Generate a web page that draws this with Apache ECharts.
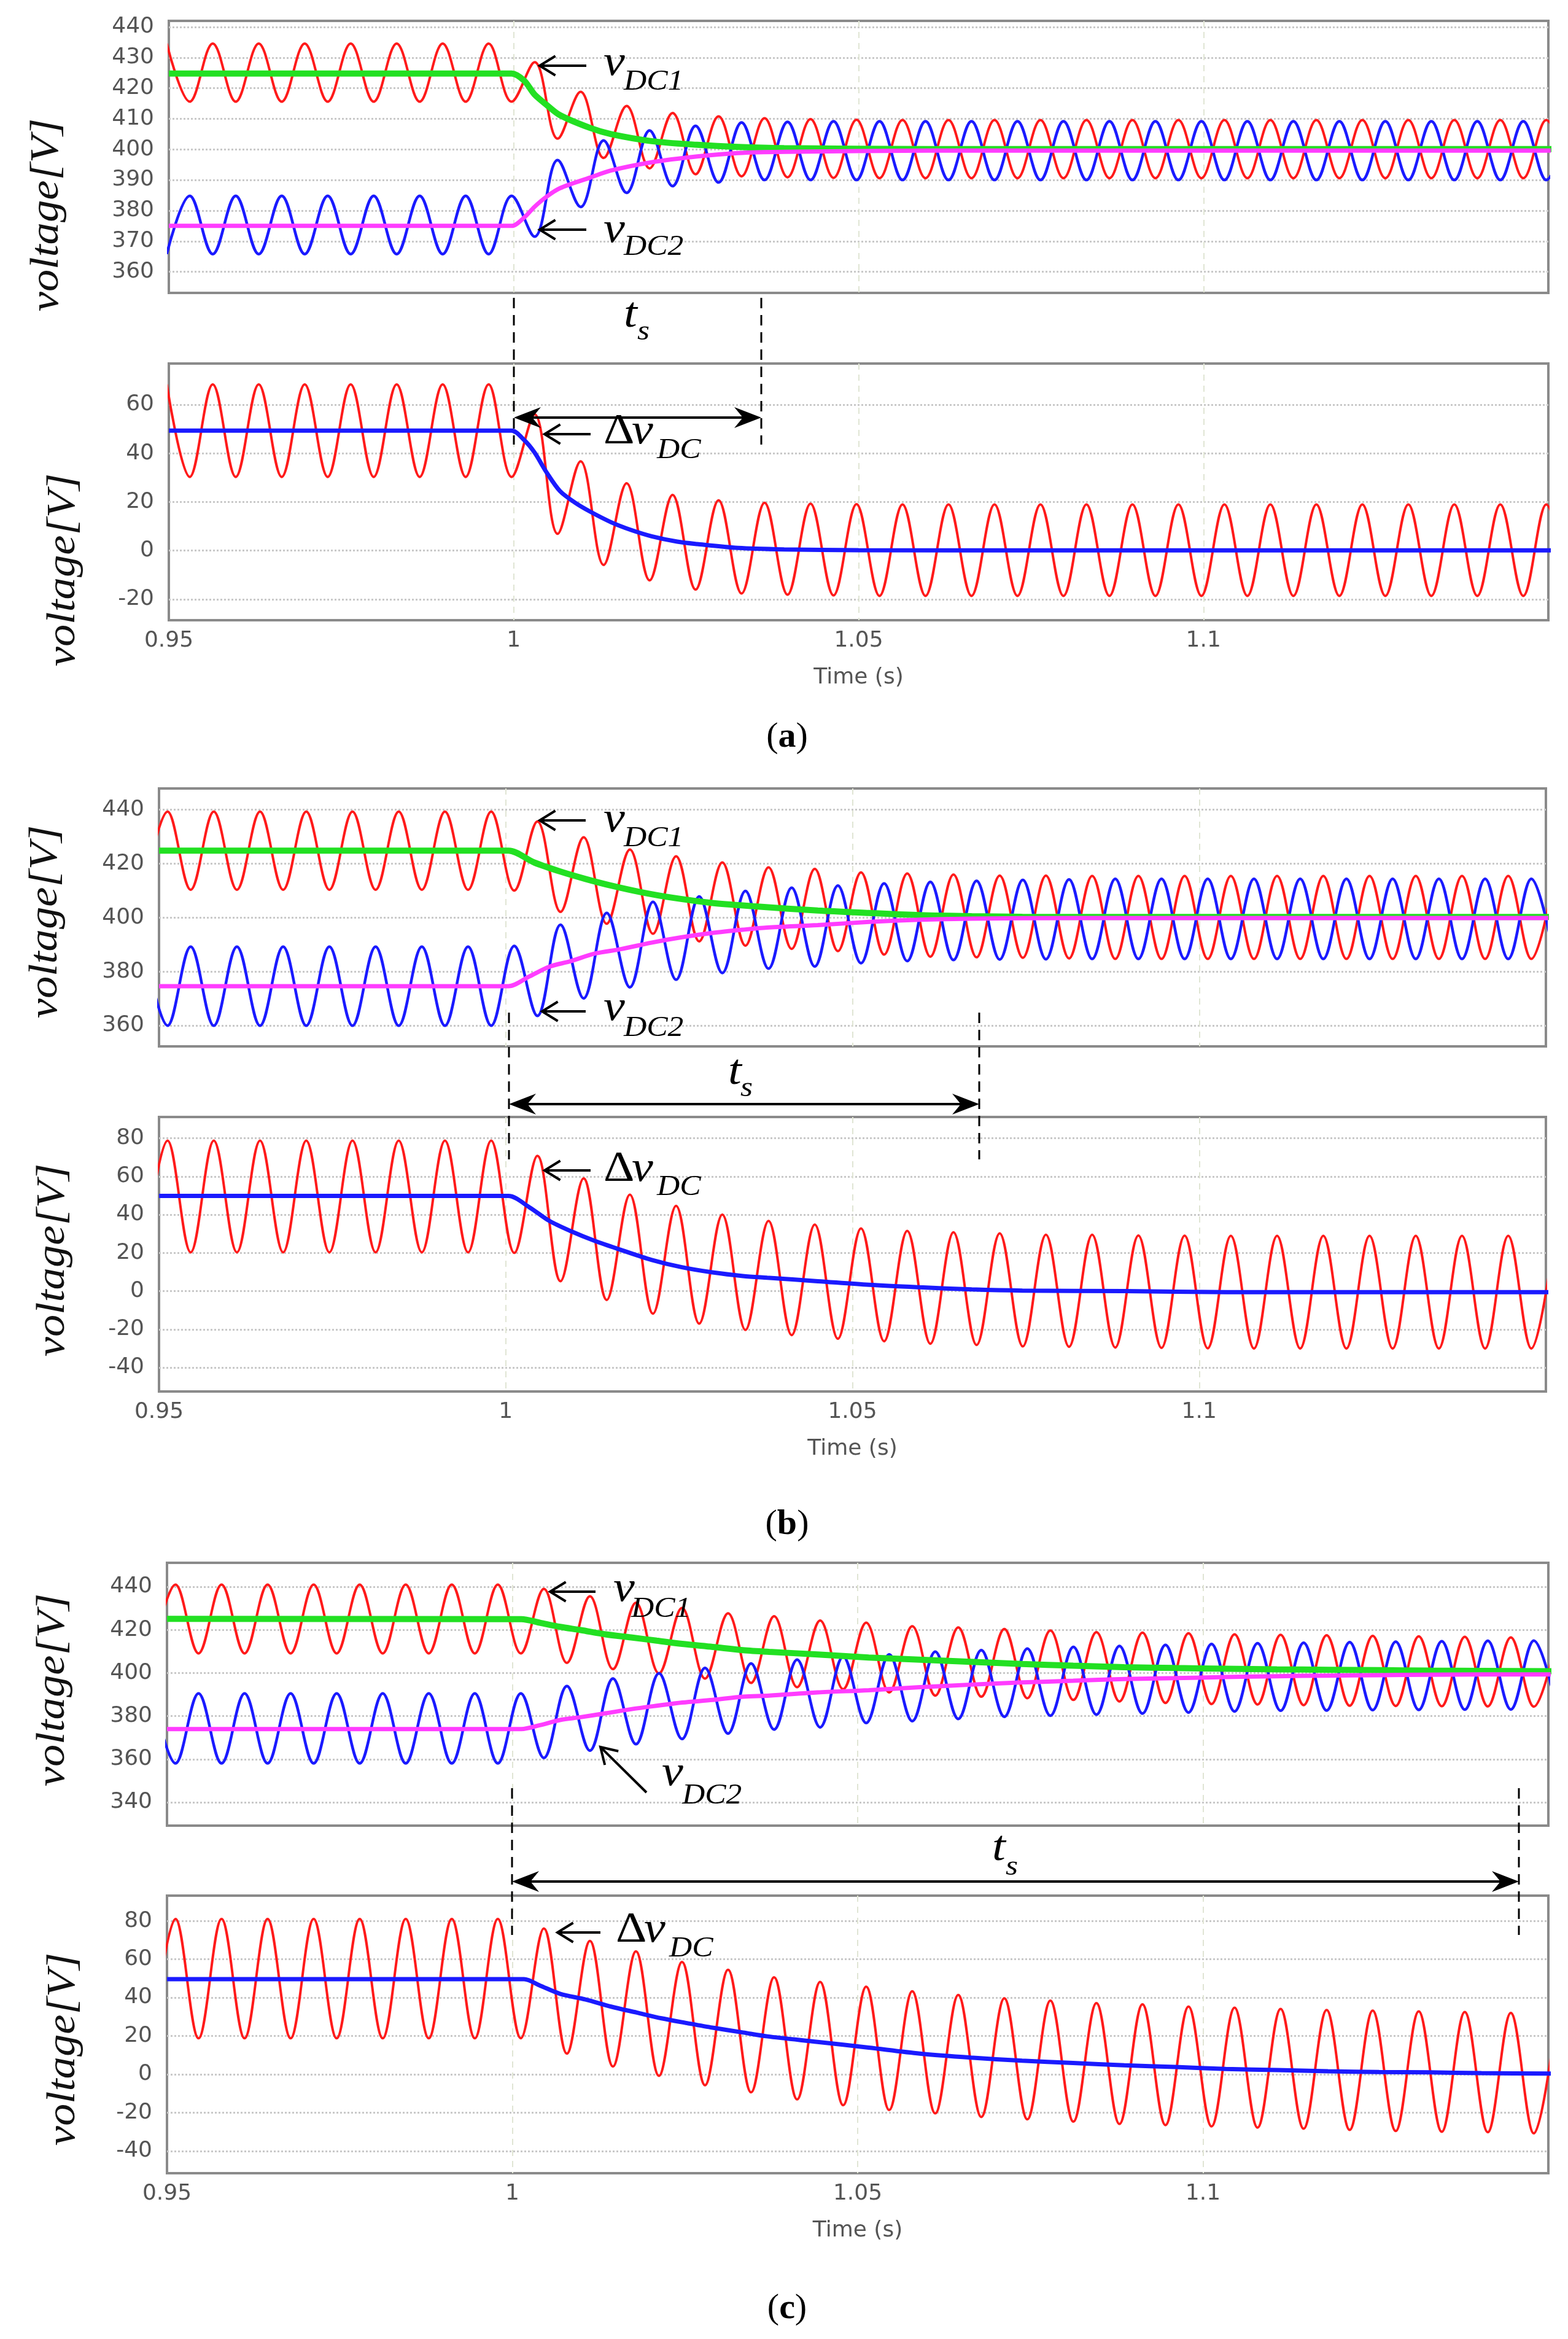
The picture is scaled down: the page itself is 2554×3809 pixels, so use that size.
<!DOCTYPE html>
<html>
<head>
<meta charset="utf-8">
<title>DC link voltage balancing</title>
<script src="https://cdn.jsdelivr.net/npm/echarts@6/dist/echarts.min.js"></script>
<style>
  html, body { margin: 0; padding: 0; background: #fff; }
  #chart { width: 2554px; height: 3809px; }
</style>
</head>
<body>
<div id="chart"></div>
<script>
/* ---------- 数据：时间轴 ---------- */
const TIME_MIN = 0.95;
const TIME_MAX = 1.15;
const timeTickLabels = [0.95, 1, 1.05, 1.1];
const timeGridLines = [1, 1.05, 1.1];
// 150 Hz 纹波：相邻采样点为一个波峰/波谷，间隔半个周期
const RIPPLE_HALF_PERIOD = 1 / 300;
const rippleStartA = 0.9497;
const rippleStartB = 0.9479;
const rippleStartC = 0.9479;

/* ---------- 数据：y 轴刻度 ---------- */
const voltTicksA = [360, 370, 380, 390, 400, 410, 420, 430, 440];
const diffTicksA = [-20, 0, 20, 40, 60];
const voltTicksB = [360, 380, 400, 420, 440];
const diffTicksB = [-40, -20, 0, 20, 40, 60, 80];
const voltTicksC = [340, 360, 380, 400, 420, 440];
const diffTicksC = [-40, -20, 0, 20, 40, 60, 80];

/* ---------- 数据：(a) 波峰/波谷读数 ---------- */
const redTopA = [
  434.6, 415.6, 434.6, 415.6, 434.6, 415.6, 434.6, 415.6, 434.6, 415.6,
  434.6, 415.6, 434.6, 415.6, 434.6, 415.6, 428.5, 403.5, 418.8, 397.2,
  414.2, 393.8, 411.9, 391.9, 410.8, 391.2, 410.2, 390.9, 409.9, 390.7,
  409.7, 390.6, 409.6, 390.6, 409.6, 390.6, 409.6, 390.6, 409.6, 390.6,
  409.6, 390.6, 409.6, 390.6, 409.6, 390.6, 409.6, 390.6, 409.6, 390.6,
  409.6, 390.6, 409.6, 390.6, 409.6, 390.6, 409.6, 390.6, 409.6, 390.6,
  409.6, 390.6
];
const blueTopA = [
  365.8, 384.8, 365.8, 384.8, 365.8, 384.8, 365.8, 384.8, 365.8, 384.8,
  365.8, 384.8, 365.8, 384.8, 365.8, 384.8, 371.5, 396.5, 381.2, 402.9,
  385.8, 406.2, 388.0, 407.7, 389.2, 408.8, 390.0, 409.0, 390.0, 409.2,
  390.0, 409.2, 390.0, 409.2, 390.0, 409.2, 390.0, 409.2, 390.0, 409.2,
  390.0, 409.2, 390.0, 409.2, 390.0, 409.2, 390.0, 409.2, 390.0, 409.2,
  390.0, 409.2, 390.0, 409.2, 390.0, 409.2, 390.0, 409.2, 390.0, 409.2,
  390.0, 409.2
];
const redBotA = [
  68.3, 30.3, 68.3, 30.3, 68.3, 30.3, 68.3, 30.3, 68.3, 30.3,
  68.3, 30.3, 68.3, 30.3, 68.3, 30.3, 56.0, 6.9, 36.7, -5.9,
  27.7, -12.2, 22.9, -16.0, 20.7, -17.6, 19.7, -18.1, 19.3, -18.4,
  19.1, -18.6, 19.0, -18.6, 19.0, -18.6, 19.0, -18.6, 19.0, -18.6,
  19.0, -18.6, 19.0, -18.6, 19.0, -18.6, 19.0, -18.6, 19.0, -18.6,
  19.0, -18.6, 19.0, -18.6, 19.0, -18.6, 19.0, -18.6, 19.0, -18.6,
  19.0, -18.6
];
const dcTimeA = [0.95, 0.9997, 1.0015, 1.0030, 1.0048, 1.0067, 1.0111, 1.0141, 1.0200, 1.0266, 1.0325, 1.0392, 1.0600, 1.1510];
const greenTopA = [424.8, 424.8, 422.5, 418.0, 414.5, 411.2, 407.0, 405.0, 402.7, 401.5, 400.8, 400.4, 400.1, 400.1];
const magentaTopA = [375.0, 375.0, 377.7, 381.2, 384.6, 387.3, 390.8, 393.1, 395.8, 397.7, 398.8, 399.2, 399.6, 399.6];
const diffTimeA = [0.95, 0.9997, 1.0015, 1.0030, 1.0048, 1.0067, 1.0089, 1.0111, 1.0141, 1.0170, 1.0200, 1.0237, 1.0266, 1.0325, 1.0392, 1.0500, 1.0800, 1.1510];
const diffBotA = [49.3, 49.3, 45.5, 40.4, 32.0, 24.5, 19.7, 16.0, 11.7, 8.5, 5.9, 3.7, 2.7, 1.1, 0.5, 0.2, 0.1, 0.1];

/* ---------- 数据：(b) 波峰/波谷读数 ---------- */
const redTopB = [
  410.3, 439.2, 410.3, 439.2, 410.3, 439.2, 410.3, 439.2, 410.3, 439.2,
  410.3, 439.2, 410.3, 439.2, 410.3, 439.2, 410.0, 435.6, 402.1, 429.7,
  397.7, 425.2, 394.0, 422.7, 391.2, 420.4, 389.6, 418.6, 388.4, 418.0,
  387.6, 416.7, 386.3, 416.3, 385.5, 415.9, 385.3, 415.5, 385.1, 415.5,
  384.9, 415.4, 384.7, 415.4, 384.7, 415.4, 384.7, 415.4, 384.7, 415.4,
  384.7, 415.4, 384.7, 415.4, 384.7, 415.4, 384.7, 415.4, 384.7, 415.4,
  384.7, 415.4
];
const blueTopB = [
  389.2, 360.0, 389.2, 360.0, 389.2, 360.0, 389.2, 360.0, 389.2, 360.0,
  389.2, 360.0, 389.2, 360.0, 389.2, 360.0, 389.5, 363.6, 397.3, 370.1,
  401.7, 374.2, 405.8, 377.0, 407.8, 379.5, 409.8, 381.1, 411.0, 381.9,
  411.8, 383.1, 412.6, 383.9, 413.2, 384.3, 413.6, 384.5, 413.9, 384.6,
  414.1, 384.7, 414.3, 384.7, 414.3, 384.7, 414.3, 384.7, 414.3, 384.7,
  414.3, 384.7, 414.3, 384.7, 414.3, 384.7, 414.3, 384.7, 414.3, 384.7,
  414.3, 384.7
];
const redBotB = [
  20.3, 78.7, 20.3, 78.7, 20.3, 78.7, 20.3, 78.7, 20.3, 78.7,
  20.3, 78.7, 20.3, 78.7, 20.3, 78.7, 20.0, 70.8, 5.2, 59.0,
  -4.6, 50.5, -11.8, 44.6, -17.0, 40.0, -20.3, 36.7, -23.0, 34.8,
  -24.9, 32.8, -26.2, 31.5, -27.5, 30.8, -28.2, 30.2, -28.9, 29.5,
  -29.1, 29.5, -29.5, 29.1, -29.7, 29.0, -29.9, 28.9, -30.0, 28.9,
  -30.0, 28.9, -30.0, 28.9, -30.0, 28.9, -30.0, 28.9, -30.0, 28.9,
  -30.0, 28.9
];
const greenTimeB = [0.95, 1.0004, 1.0041, 1.0078, 1.0115, 1.0151, 1.0195, 1.0239, 1.0298, 1.0357, 1.0450, 1.0524, 1.0597, 1.0672, 1.0745, 1.0892, 1.1510];
const greenTopB = [424.8, 424.8, 420.4, 417.1, 414.3, 411.9, 409.4, 407.4, 405.4, 404.2, 402.6, 401.7, 400.9, 400.5, 400.3, 400.2, 400.2];
const magentaTimeB = [0.95, 1.0004, 1.0034, 1.0063, 1.0093, 1.0129, 1.0166, 1.0210, 1.0254, 1.0298, 1.0342, 1.0377, 1.0450, 1.0524, 1.0597, 1.0672, 1.0818, 1.1510];
const magentaTopB = [374.6, 374.6, 378.2, 381.8, 383.8, 386.7, 388.3, 390.7, 392.7, 394.3, 395.5, 396.3, 397.2, 398.4, 399.2, 399.6, 399.8, 399.8];
const diffTimeB = [0.95, 1.0004, 1.0034, 1.0063, 1.0093, 1.0129, 1.0166, 1.0210, 1.0254, 1.0298, 1.0342, 1.0377, 1.0450, 1.0524, 1.0597, 1.0672, 1.0745, 1.0892, 1.1040, 1.1510];
const diffBotB = [49.8, 49.8, 43.9, 36.7, 31.5, 26.2, 21.6, 16.4, 12.5, 9.8, 7.9, 7.0, 5.2, 3.3, 2.0, 0.9, 0.3, 0.0, -0.5, -0.5];

/* ---------- 数据：(c) 波峰/波谷读数 ---------- */
const redTopC = [
  409.1, 441.0, 409.1, 441.0, 409.1, 441.0, 409.1, 441.0, 409.1, 441.0,
  409.1, 441.0, 409.1, 441.0, 409.1, 441.0, 409.1, 439.0, 404.7, 435.6,
  401.8, 432.6, 399.8, 430.2, 397.4, 427.7, 395.4, 426.3, 393.4, 424.3,
  392.5, 423.3, 391.0, 421.7, 389.5, 421.1, 389.0, 420.4, 388.3, 419.7,
  387.5, 418.9, 386.8, 418.7, 386.1, 418.4, 385.6, 417.9, 385.4, 417.7,
  385.1, 417.5, 384.8, 417.2, 384.7, 417.0, 384.6, 416.8, 384.5, 416.5,
  384.4, 416.4
];
const blueTopC = [
  390.5, 358.1, 390.5, 358.1, 390.5, 358.1, 390.5, 358.1, 390.5, 358.1,
  390.5, 358.1, 390.5, 358.1, 390.5, 358.1, 390.5, 360.6, 393.9, 364.0,
  397.4, 367.0, 399.8, 369.4, 402.3, 371.9, 404.4, 373.8, 406.2, 374.8,
  407.6, 376.8, 408.6, 377.7, 409.9, 378.7, 410.6, 379.7, 411.3, 380.2,
  412.1, 380.7, 412.5, 381.2, 413.0, 381.7, 413.4, 382.2, 413.8, 382.5,
  414.0, 382.6, 414.3, 382.8, 414.5, 382.9, 414.7, 383.0, 414.9, 383.1,
  415.0, 383.2
];
const redBotC = [
  18.8, 81.0, 18.8, 81.0, 18.8, 81.0, 18.8, 81.0, 18.8, 81.0,
  18.8, 81.0, 18.8, 81.0, 18.8, 81.0, 18.8, 76.1, 10.8, 69.6,
  4.1, 64.1, -0.8, 58.6, -5.7, 54.5, -9.4, 50.6, -13.1, 48.2,
  -16.1, 45.7, -18.6, 43.3, -20.4, 41.4, -22.3, 39.6, -23.5, 38.4,
  -24.7, 37.1, -25.9, 36.5, -26.5, 35.3, -27.2, 34.7, -27.8, 34.1,
  -28.4, 33.5, -29.0, 33.2, -29.6, 32.8, -30.0, 32.5, -30.2, 32.0,
  -30.8, 31.8
];
const dcTimeC = [0.95, 1.0013, 1.0040, 1.0069, 1.0099, 1.0135, 1.0172, 1.0209, 1.0246, 1.0290, 1.0334, 1.0372, 1.0442, 1.0516, 1.0590, 1.0664, 1.0738, 1.0812, 1.0886, 1.0960, 1.1033, 1.1107, 1.1181, 1.1255, 1.1329, 1.1403, 1.1510];
const greenTopC = [425.1, 425.0, 423.3, 421.4, 419.9, 417.9, 416.5, 415.0, 413.5, 412.1, 410.6, 409.8, 408.6, 407.2, 406.2, 405.2, 404.2, 403.4, 402.7, 402.3, 402.0, 401.7, 401.5, 401.3, 401.1, 401.0, 400.8];
const magentaTopC = [374.0, 374.0, 375.8, 378.2, 379.5, 381.3, 383.2, 384.8, 386.3, 387.5, 389.0, 389.5, 391.0, 392.0, 393.4, 394.6, 395.6, 396.4, 397.2, 397.6, 398.1, 398.5, 398.8, 399.0, 399.2, 399.3, 399.3];
const diffTimeC = [0.95, 1.0017, 1.0040, 1.0069, 1.0106, 1.0143, 1.0180, 1.0216, 1.0253, 1.0290, 1.0334, 1.0369, 1.0442, 1.0516, 1.0590, 1.0664, 1.0738, 1.0812, 1.0886, 1.0960, 1.1033, 1.1107, 1.1181, 1.1255, 1.1329, 1.1403, 1.1510];
const diffBotC = [49.6, 49.6, 46.3, 42.0, 39.0, 35.3, 32.2, 29.2, 26.7, 24.3, 21.8, 19.8, 16.9, 13.9, 10.8, 8.7, 7.1, 5.9, 4.7, 3.8, 2.8, 2.2, 1.6, 1.2, 1.0, 0.6, 0.4];

/* ---------- 样式与版式 ---------- */
const SERIF = '"Liberation Serif", "Times New Roman", serif';
const SANS = '"DejaVu Sans", sans-serif';
const TICK_COLOR = '#555';
const RED = '#ff1a1a';
const BLUE = '#1a1aff';
const GREEN = '#22e022';
const MAGENTA = '#ff3cff';
const RIPPLE_SMOOTH = 0.36; // 控制点约为半周期的 0.36，连线接近正弦
const ANNOT_MAIN = 70;
const ANNOT_SUB = 46;
const ANNOT_STRETCH = 1.12; // 原图整体被横向拉伸，注释文字同比例拉宽

// 六个子图的绘图区（像素）与纵轴范围
const panelLayout = [
  { left: 275, top: 34,   width: 2247, height: 443, yMin: 353.1, yMax: 442,   ticks: voltTicksA, time: false },
  { left: 275, top: 592,  width: 2247, height: 418, yMin: -28.6, yMax: 76.9,  ticks: diffTicksA, time: true },
  { left: 259, top: 1284, width: 2259, height: 420, yMin: 352.3, yMax: 447.8, ticks: voltTicksB, time: false },
  { left: 259, top: 1819, width: 2259, height: 447, yMin: -52.5, yMax: 91.1,  ticks: diffTicksB, time: true },
  { left: 272, top: 2545, width: 2250, height: 428, yMin: 329.2, yMax: 451.1, ticks: voltTicksC, time: false },
  { left: 272, top: 3087, width: 2250, height: 452, yMin: -51.6, yMax: 93.2,  ticks: diffTicksC, time: true }
];

/* ---------- 1. 数据点构建 ---------- */
// 纹波：每个读数对应一个波峰或波谷，时间按半周期递增
function ripplePoints(start, values) {
  return values.map((v, j) => [start + j * RIPPLE_HALF_PERIOD, v]);
}

// 平均值曲线：时间与读数一一对应
function tracePoints(times, values) {
  return values.map((v, i) => [times[i], v]);
}

function lineSeries(panel, data, color, width, smooth) {
  return {
    type: 'line',
    xAxisIndex: panel,
    yAxisIndex: panel,
    data,
    smooth,
    symbol: 'none',
    showSymbol: false,
    silent: true,
    clip: true,
    lineStyle: { color, width }
  };
}

/* ---------- 2. 坐标系 ---------- */
function buildGrid(p) {
  return {
    left: p.left, top: p.top, width: p.width, height: p.height,
    show: true, borderColor: '#8a8a8a', borderWidth: 4, backgroundColor: 'transparent'
  };
}

function buildXAxis(p, i) {
  return {
    type: 'value', gridIndex: i, min: TIME_MIN, max: TIME_MAX,
    axisLine: { show: false },
    axisTick: { show: false, customValues: timeGridLines },
    axisLabel: {
      show: p.time, customValues: timeTickLabels, margin: 16,
      color: TICK_COLOR, fontFamily: SANS, fontSize: 36,
      formatter: (v) => String(v)
    },
    splitLine: { show: true, lineStyle: { color: '#e0e5d4', width: 2, type: [10, 8] } },
    name: p.time ? 'Time (s)' : '',
    nameLocation: 'middle',
    nameGap: 76,
    nameTextStyle: { color: TICK_COLOR, fontFamily: SANS, fontSize: 36 }
  };
}

function buildYAxis(p, i) {
  return {
    type: 'value', gridIndex: i, min: p.yMin, max: p.yMax,
    axisLine: { show: false },
    axisTick: { show: false, customValues: p.ticks },
    axisLabel: { customValues: p.ticks, margin: 24, color: TICK_COLOR, fontFamily: SANS, fontSize: 36 },
    splitLine: { show: true, lineStyle: { color: '#c9c9c9', width: 3, type: 'dotted' } }
  };
}

/* ---------- 3. 注释（箭头、虚线、文字） ---------- */
// 以基线定位的衬线文字，verticalAlign 为 middle 时基线约在中心下方 0.32em
function serifText(x, baseline, text, size, italic = true) {
  return {
    type: 'text', x, y: baseline - size * 0.32, z: 100, scaleX: ANNOT_STRETCH,
    style: {
      text, fill: '#000', fontSize: size, fontFamily: SERIF,
      fontStyle: italic ? 'italic' : 'normal', align: 'left', verticalAlign: 'middle'
    }
  };
}

function symbolLabel(x, baseline, sub, subX, subBaseline) {
  return [serifText(x, baseline, 'v', ANNOT_MAIN), serifText(subX, subBaseline, sub, ANNOT_SUB)];
}

function deltaLabel(x, baseline, subX, subBaseline) {
  return [
    serifText(x, baseline, 'Δ', ANNOT_MAIN, false),
    serifText(x + 46, baseline, 'v', ANNOT_MAIN),
    serifText(subX, subBaseline, 'DC', ANNOT_SUB)
  ];
}

function timeLabel(x, baseline, subX, subBaseline) {
  return [serifText(x, baseline, 't', ANNOT_MAIN), serifText(subX, subBaseline, 's', ANNOT_SUB)];
}

// 细线开口箭头（“←”），tip 为箭尖
function openArrow(tipX, tipY, tailX, tailY) {
  const ang = Math.atan2(tailY - tipY, tailX - tipX);
  const len = 30;
  const barb = (da) => [tipX + len * Math.cos(ang + da), tipY + len * Math.sin(ang + da)];
  const stroke = { stroke: '#000', lineWidth: 4, fill: null };
  return [
    { type: 'line', z: 100, shape: { x1: tipX + 3 * Math.cos(ang), y1: tipY + 3 * Math.sin(ang), x2: tailX, y2: tailY }, style: stroke },
    { type: 'polyline', z: 100, shape: { points: [barb(0.55), [tipX, tipY], barb(-0.55)] }, style: stroke }
  ];
}

// 调节时间 t_s 的双向实心箭头
function spanArrow(x1, x2, y) {
  const head = (tip, dir) => ({
    type: 'polygon', z: 100,
    shape: { points: [[tip, y], [tip + dir * 44, y - 17], [tip + dir * 30, y], [tip + dir * 44, y + 17]] },
    style: { fill: '#000' }
  });
  return [
    { type: 'line', z: 100, shape: { x1: x1 + 20, y1: y, x2: x2 - 20, y2: y }, style: { stroke: '#000', lineWidth: 4 } },
    head(x1, 1),
    head(x2, -1)
  ];
}

function dashedLine(x, y1, y2) {
  return { type: 'line', z: 100, shape: { x1: x, y1, x2: x, y2 }, style: { stroke: '#000', lineWidth: 3, lineDash: [17, 11] } };
}

function axisTitle(cx, cy) {
  return {
    type: 'text', x: cx, y: cy, rotation: Math.PI / 2, scaleX: 1.1, z: 100,
    style: { text: 'voltage[V]', fill: '#111', fontSize: 66, fontFamily: SERIF, fontStyle: 'italic', align: 'center', verticalAlign: 'middle' }
  };
}

function caption(cx, cy, letter) {
  return {
    type: 'text', x: cx, y: cy, z: 100,
    style: {
      text: '({b|' + letter + '})', fill: '#000', fontSize: 58, fontFamily: SERIF,
      align: 'center', verticalAlign: 'middle',
      rich: { b: { fontSize: 58, fontFamily: SERIF, fontWeight: 'bold' } }
    }
  };
}

function buildAnnotations() {
  return [
    // (a)
    dashedLine(837, 485, 724), dashedLine(1240, 485, 724),
    ...spanArrow(837, 1240, 680),
    ...timeLabel(1016, 536, 1038, 556),
    ...openArrow(879, 107, 955, 107), ...symbolLabel(983, 126, 'DC1', 1016, 149),
    ...openArrow(879, 374, 955, 374), ...symbolLabel(983, 398, 'DC2', 1016, 418),
    ...openArrow(887, 707, 962, 707), ...deltaLabel(983, 726, 1070, 749),
    // (b)
    dashedLine(829, 1649, 1888), dashedLine(1595, 1649, 1888),
    ...spanArrow(829, 1595, 1798),
    ...timeLabel(1186, 1769, 1206, 1788),
    ...openArrow(879, 1336, 954, 1336), ...symbolLabel(983, 1358, 'DC1', 1016, 1381),
    ...openArrow(883, 1647, 954, 1647), ...symbolLabel(983, 1665, 'DC2', 1016, 1690),
    ...openArrow(887, 1906, 962, 1906), ...deltaLabel(983, 1927, 1070, 1949),
    // (c)
    dashedLine(834, 2912, 3151), dashedLine(2474, 2912, 3151),
    ...spanArrow(834, 2474, 3064),
    ...timeLabel(1616, 3033, 1638, 3056),
    ...openArrow(896, 2592, 970, 2592), ...symbolLabel(999, 2611, 'DC1', 1028, 2636),
    ...openArrow(978, 2845, 1053, 2919), ...symbolLabel(1078, 2911, 'DC2', 1111, 2940),
    ...openArrow(908, 3147, 978, 3147), ...deltaLabel(1003, 3166, 1090, 3189),
    // 纵轴标题与子图编号
    axisTitle(77, 350), axisTitle(104, 928),
    axisTitle(75, 1501), axisTitle(87, 2052),
    axisTitle(87, 2752), axisTitle(104, 3337),
    caption(1282, 1201, 'a'), caption(1282, 2483, 'b'), caption(1282, 3760, 'c')
  ];
}

/* ---------- 4. 系列 ---------- */
function buildSeries() {
  return [
    // (a)
    lineSeries(0, ripplePoints(rippleStartA, redTopA), RED, 4, RIPPLE_SMOOTH),
    lineSeries(0, ripplePoints(rippleStartA, blueTopA), BLUE, 4.5, RIPPLE_SMOOTH),
    lineSeries(0, tracePoints(dcTimeA, greenTopA), GREEN, 10, 0.3),
    lineSeries(0, tracePoints(dcTimeA, magentaTopA), MAGENTA, 7, 0.3),
    lineSeries(1, ripplePoints(rippleStartA, redBotA), RED, 4, RIPPLE_SMOOTH),
    lineSeries(1, tracePoints(diffTimeA, diffBotA), BLUE, 7, 0.3),
    // (b)
    lineSeries(2, ripplePoints(rippleStartB, redTopB), RED, 4, RIPPLE_SMOOTH),
    lineSeries(2, ripplePoints(rippleStartB, blueTopB), BLUE, 4.5, RIPPLE_SMOOTH),
    lineSeries(2, tracePoints(greenTimeB, greenTopB), GREEN, 10, 0.3),
    lineSeries(2, tracePoints(magentaTimeB, magentaTopB), MAGENTA, 7, 0.3),
    lineSeries(3, ripplePoints(rippleStartB, redBotB), RED, 4, RIPPLE_SMOOTH),
    lineSeries(3, tracePoints(diffTimeB, diffBotB), BLUE, 7, 0.3),
    // (c)
    lineSeries(4, ripplePoints(rippleStartC, redTopC), RED, 4, RIPPLE_SMOOTH),
    lineSeries(4, ripplePoints(rippleStartC, blueTopC), BLUE, 4.5, RIPPLE_SMOOTH),
    lineSeries(4, tracePoints(dcTimeC, greenTopC), GREEN, 10, 0.3),
    lineSeries(4, tracePoints(dcTimeC, magentaTopC), MAGENTA, 7, 0.3),
    lineSeries(5, ripplePoints(rippleStartC, redBotC), RED, 4, RIPPLE_SMOOTH),
    lineSeries(5, tracePoints(diffTimeC, diffBotC), BLUE, 7, 0.3)
  ];
}

/* ---------- 5. 渲染 ---------- */
const chart = echarts.init(document.getElementById('chart'), null, { renderer: 'canvas' });
chart.setOption({
  animation: false,
  backgroundColor: '#fff',
  grid: panelLayout.map(buildGrid),
  xAxis: panelLayout.map(buildXAxis),
  yAxis: panelLayout.map(buildYAxis),
  series: buildSeries(),
  graphic: { elements: buildAnnotations() }
});
</script>
</body>
</html>
